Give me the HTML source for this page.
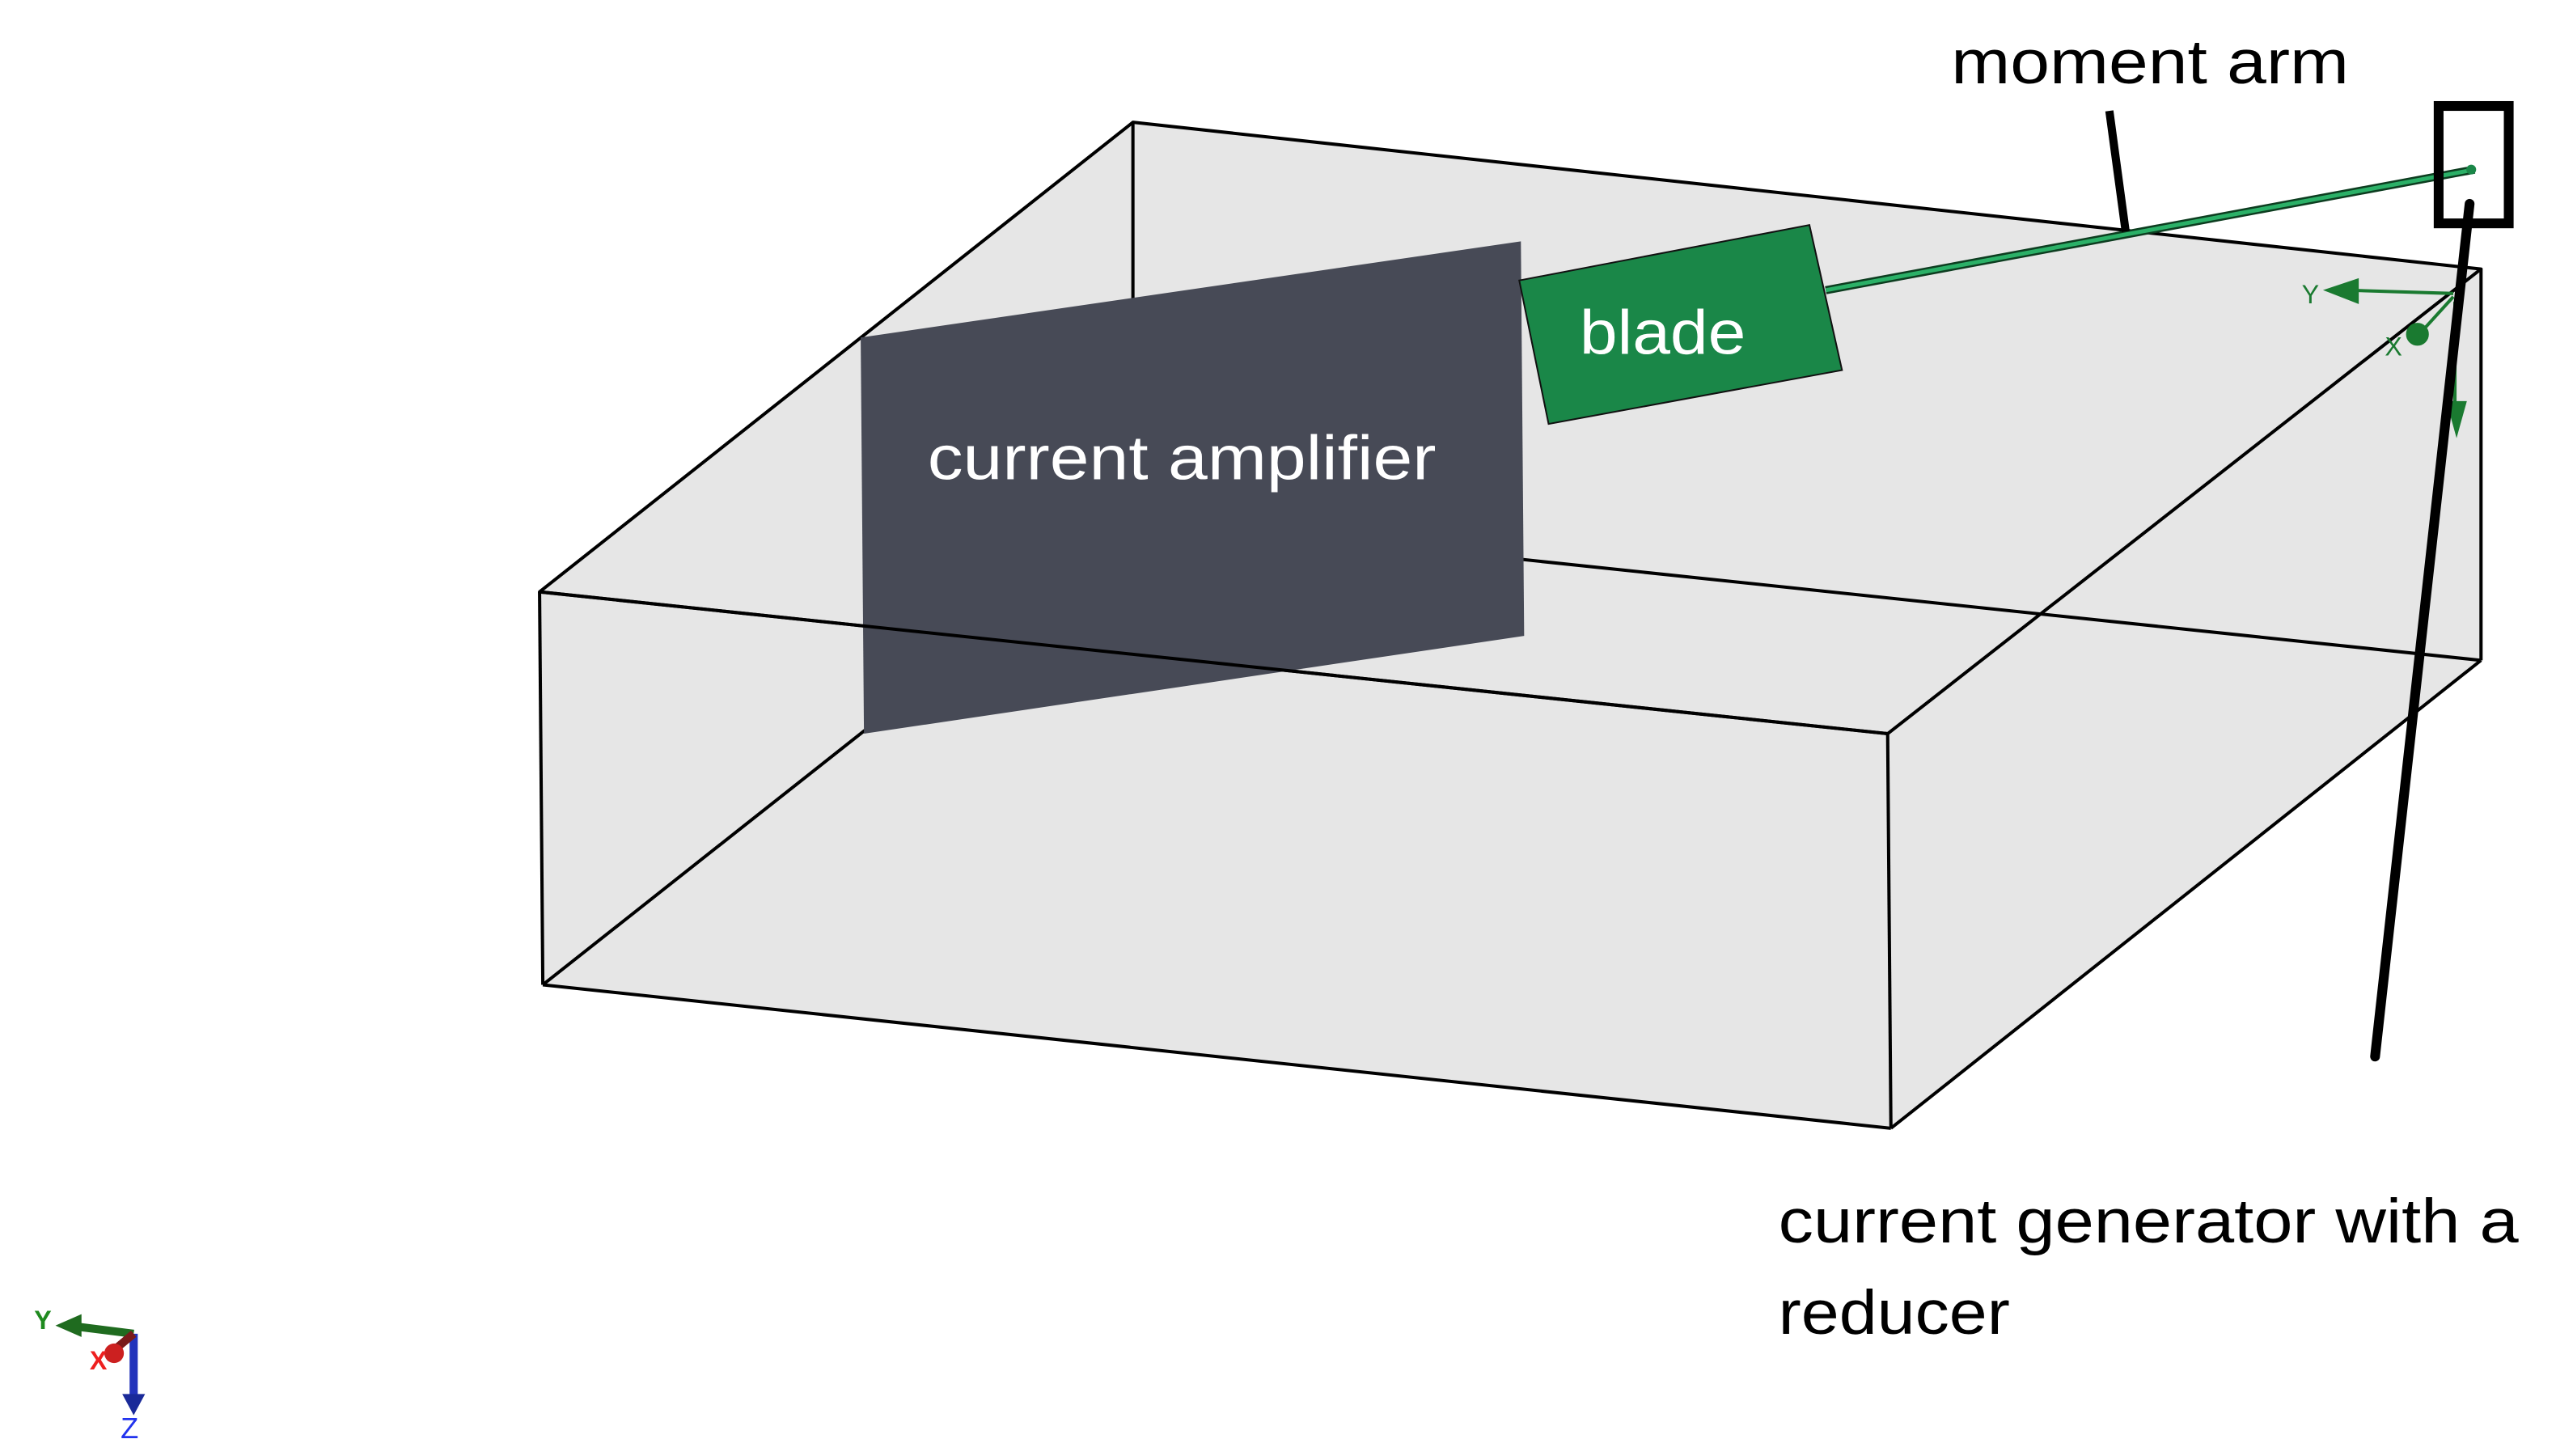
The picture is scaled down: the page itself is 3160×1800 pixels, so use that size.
<!DOCTYPE html>
<html><head><meta charset="utf-8"><style>
html,body{margin:0;padding:0;background:#fff;}
svg{display:block;}
text{font-family:"Liberation Sans",sans-serif;}
</style></head><body>
<svg width="3160" height="1800" viewBox="0 0 1568 893" preserveAspectRatio="none" xmlns="http://www.w3.org/2000/svg">
<rect width="1568" height="893" fill="#fff"/>
<polygon points="331,363 695,75 1522,165 1522,405 1160,692 333,604" fill="#e6e6e6"/>
<g stroke="#000" stroke-width="2" fill="none" stroke-linejoin="round">
<line x1="695" y1="75" x2="695" y2="318"/>
<line x1="695" y1="318" x2="1522" y2="405"/>
<line x1="695" y1="318" x2="333" y2="604"/>
<polygon points="331,363 695,75 1522,165 1158,450"/>
<line x1="331" y1="363" x2="333" y2="604"/>
<line x1="1158" y1="450" x2="1160" y2="692"/>
<line x1="333" y1="604" x2="1160" y2="692"/>
<line x1="1160" y1="692" x2="1522" y2="405"/>
<line x1="1522" y1="165" x2="1522" y2="405"/>
</g>
<polygon points="528,207 933,148 935,390 530,450" fill="#474a56"/>
<text x="725" y="294" font-size="38" fill="#fff" text-anchor="middle" textLength="312" lengthAdjust="spacingAndGlyphs">current amplifier</text>
<line x1="331" y1="363" x2="1158" y2="450" stroke="#000" stroke-width="2"/>
<polygon points="932,172 1110,138 1130,227 950,260" fill="#1a8748" stroke="#111" stroke-width="1"/>
<text x="1020" y="217" font-size="38" fill="#fff" text-anchor="middle" textLength="102" lengthAdjust="spacingAndGlyphs">blade</text>
<line x1="1120" y1="178" x2="1518" y2="104" stroke="#0d3d20" stroke-width="5"/>
<line x1="1120" y1="178" x2="1518" y2="104" stroke="#2bb067" stroke-width="2.5"/>
<circle cx="1516" cy="104" r="3" fill="#1a8748"/>
<g stroke="#1a7a30" stroke-width="2" fill="#1a7a30">
<line x1="1505" y1="180" x2="1440" y2="178"/>
<polygon points="1428,178 1446,172 1446,185"/>
<line x1="1505" y1="182" x2="1485" y2="204"/>
<circle cx="1483" cy="205" r="6"/>
<line x1="1506" y1="185" x2="1506" y2="255"/>
<polygon points="1502,247 1512,247 1507,265"/>
</g>
<text x="1412" y="186" font-size="16" fill="#1a7a30" font-family="Liberation Serif">Y</text>
<text x="1463" y="218" font-size="16" fill="#1a7a30" font-family="Liberation Serif">X</text>
<rect x="1496" y="65" width="43" height="72" fill="none" stroke="#000" stroke-width="6"/>
<line x1="1515" y1="125" x2="1457" y2="648" stroke="#000" stroke-width="6" stroke-linecap="round"/>
<line x1="1294" y1="68" x2="1304" y2="142" stroke="#000" stroke-width="5"/>
<text x="1197" y="51" font-size="38" fill="#000" textLength="244" lengthAdjust="spacingAndGlyphs">moment arm</text>
<text x="1091" y="762" font-size="38" fill="#000" textLength="454" lengthAdjust="spacingAndGlyphs">current generator with a</text>
<text x="1091" y="818" font-size="38" fill="#000" textLength="142" lengthAdjust="spacingAndGlyphs">reducer</text>
<g>
<line x1="82" y1="818" x2="42" y2="813" stroke="#1f6b1f" stroke-width="5"/>
<polygon points="34,813 50,806 50,820" fill="#1f6b1f"/>
<line x1="82" y1="818" x2="82" y2="860" stroke="#2233bb" stroke-width="5"/>
<polygon points="75,855 89,855 82,868" fill="#1a2a99"/>
<line x1="82" y1="818" x2="70" y2="828" stroke="#7a1a1a" stroke-width="5"/>
<circle cx="70" cy="830" r="6" fill="#cc2020"/>
</g>
<text x="21" y="815" font-size="16" fill="#1f8a1f" font-family="Liberation Serif" font-weight="bold">Y</text>
<text x="55" y="840" font-size="16" fill="#ee2020" font-family="Liberation Serif" font-weight="bold">X</text>
<text x="74" y="882" font-size="18" fill="#2233ee" font-family="Liberation Serif">Z</text>
</svg>
</body></html>
